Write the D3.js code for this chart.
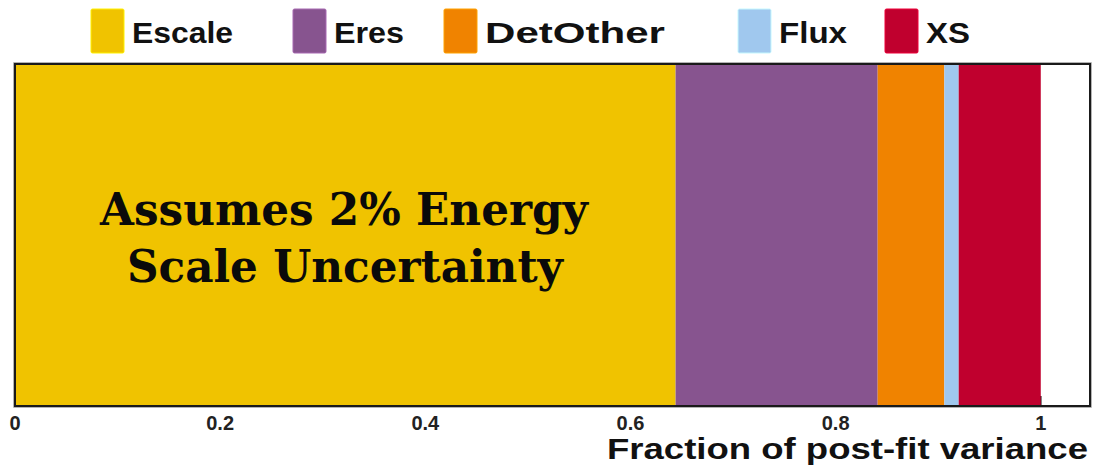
<!DOCTYPE html>
<html>
<head>
<meta charset="utf-8">
<script src="https://cdn.jsdelivr.net/npm/d3@7"></script>
<style>
  html, body { margin: 0; padding: 0; background: #fff; }
  svg { display: block; }
</style>
</head>
<body>
<svg id="chart" width="1093" height="469"></svg>
<script>
// Systematic sources and their share of the post-fit variance
const sources = ["Escale", "Eres", "DetOther", "Flux", "XS"];
const fractions = [0.644, 0.197, 0.065, 0.014, 0.080];
const colors = ["#f0c300", "#87548f", "#f08300", "#a0c8ee", "#c0002e"];
const tickValues = [0, 0.2, 0.4, 0.6, 0.8, 1];
const tickLabels = ["0", "0.2", "0.4", "0.6", "0.8", "1"];
const noteLines = ["Assumes 2% Energy", "Scale Uncertainty"];

const svg = d3.select("#chart");
const frame = { left: 15, right: 1090, top: 64, bottom: 406 };

const x = d3.scaleLinear().domain([0, 1.048]).range([frame.left, frame.right]);

// Stack the fractions end to end
let acc = 0;
const segs = fractions.map((v, i) => {
  const s = { name: sources[i], x0: acc, x1: acc + v, color: colors[i] };
  acc += v;
  return s;
});

// Plot background
svg.append("rect")
  .attr("x", frame.left).attr("y", frame.top)
  .attr("width", frame.right - frame.left).attr("height", frame.bottom - frame.top)
  .attr("fill", "#fff");

// Small inward tick marks along the bottom
svg.append("g").selectAll("line").data(tickValues).join("line")
  .attr("x1", d => x(d)).attr("x2", d => x(d))
  .attr("y1", frame.bottom).attr("y2", frame.bottom - 10)
  .attr("stroke", "#111").attr("stroke-width", 1.5);

// Stacked bar segments
svg.append("g").selectAll("rect").data(segs).join("rect")
  .attr("x", d => x(d.x0))
  .attr("y", frame.top)
  .attr("width", d => x(d.x1) - x(d.x0))
  .attr("height", frame.bottom - frame.top)
  .attr("fill", d => d.color);

// Frame with a faint grey halo
svg.append("rect")
  .attr("x", frame.left - 1).attr("y", frame.top - 1)
  .attr("width", frame.right - frame.left + 2).attr("height", frame.bottom - frame.top + 2)
  .attr("fill", "none").attr("stroke", "#9a9a9a").attr("stroke-width", 1.5);
svg.append("rect")
  .attr("x", frame.left).attr("y", frame.top)
  .attr("width", frame.right - frame.left).attr("height", frame.bottom - frame.top)
  .attr("fill", "none").attr("stroke", "#1a1a1a").attr("stroke-width", 2);

// Tick labels
svg.append("g").selectAll("text").data(tickValues).join("text")
  .attr("x", d => x(d))
  .attr("y", 430)
  .attr("text-anchor", "middle")
  .attr("font-family", "Liberation Sans, Arial, sans-serif")
  .attr("font-weight", "bold")
  .attr("font-size", 20)
  .attr("fill", "#222")
  .text((d, i) => tickLabels[i]);

// Axis title
svg.append("text")
  .attr("x", 1088).attr("y", 459)
  .attr("text-anchor", "end")
  .attr("font-family", "Liberation Sans, Arial, sans-serif")
  .attr("font-weight", "bold")
  .attr("font-size", 30)
  .attr("fill", "#111")
  .attr("textLength", 481)
  .attr("lengthAdjust", "spacingAndGlyphs")
  .text("Fraction of post-fit variance");

// Legend
const legendX = [91, 293, 444, 738, 885];
const legendTextW = [101, 70, 180, 68, 44];
const lg = svg.append("g").selectAll("g").data(segs).join("g")
  .attr("transform", (d, i) => `translate(${legendX[i]},9)`);
lg.append("rect")
  .attr("width", 33).attr("height", 44)
  .attr("rx", 1.5)
  .attr("fill", d => d.color)
  .attr("stroke", d => d3.color(d.color).brighter(0.6))
  .attr("stroke-width", 1);
lg.append("text")
  .attr("x", 41).attr("y", 34)
  .attr("font-family", "Liberation Sans, Arial, sans-serif")
  .attr("font-weight", "bold")
  .attr("font-size", 30)
  .attr("fill", "#111")
  .attr("textLength", (d, i) => legendTextW[i])
  .attr("lengthAdjust", "spacingAndGlyphs")
  .text(d => d.name);

// Annotation on the energy-scale segment
const noteX = [100, 127], noteY = [225, 282], noteW = [488, 436];
svg.append("g").selectAll("text").data(noteLines).join("text")
  .attr("x", (d, i) => noteX[i])
  .attr("y", (d, i) => noteY[i])
  .attr("font-family", "DejaVu Serif, Georgia, serif")
  .attr("font-weight", "bold")
  .attr("font-size", 45)
  .attr("fill", "#0a0a0a")
  .attr("textLength", (d, i) => noteW[i])
  .attr("lengthAdjust", "spacingAndGlyphs")
  .text(d => d);
</script>
</body>
</html>
